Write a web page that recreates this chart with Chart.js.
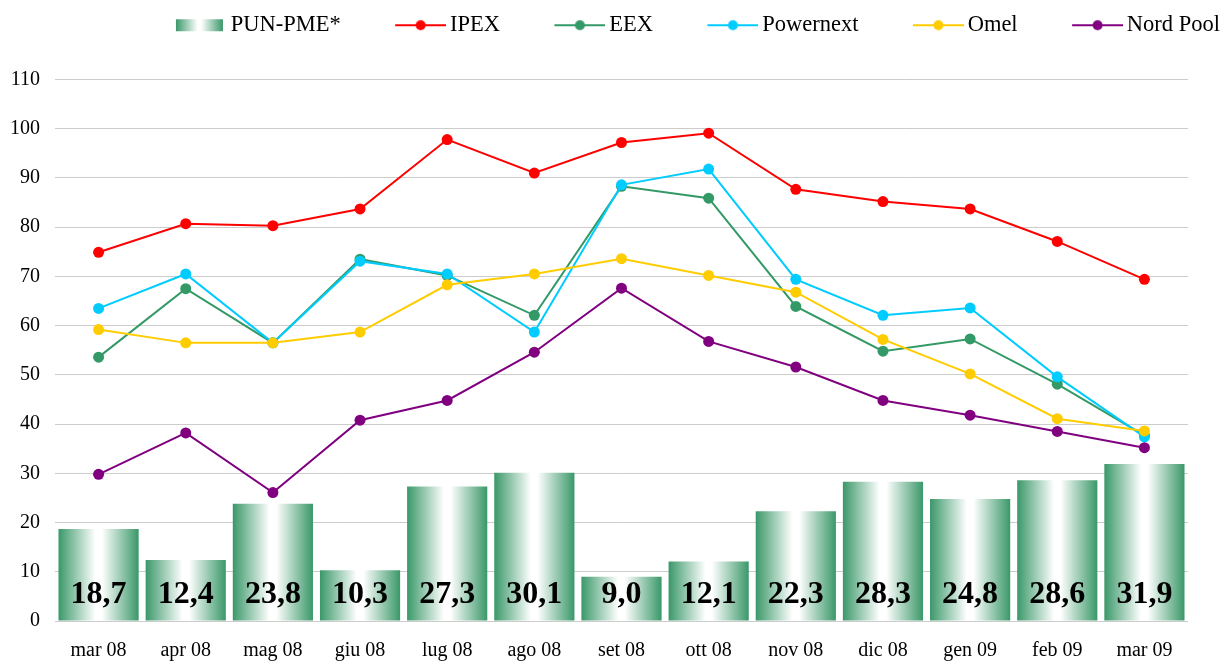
<!DOCTYPE html>
<html>
<head>
<meta charset="utf-8">
<script src="https://cdn.jsdelivr.net/npm/chart.js@4"></script>
<style>
  html, body { margin: 0; padding: 0; background: #fff; }
  #box { width: 1222px; height: 661px; }
</style>
</head>
<body>
<div id="box"><canvas id="myChart"></canvas></div>
<script>
// dati
const mesi = ['mar 08', 'apr 08', 'mag 08', 'giu 08', 'lug 08', 'ago 08', 'set 08', 'ott 08', 'nov 08', 'dic 08', 'gen 09', 'feb 09', 'mar 09'];
const pun = [18.7, 12.4, 23.8, 10.3, 27.3, 30.1, 9.0, 12.1, 22.3, 28.3, 24.8, 28.6, 31.9];
const ipex = [74.9, 80.7, 80.3, 83.7, 97.8, 91.0, 97.2, 99.1, 87.7, 85.2, 83.7, 77.1, 69.4];
const eex = [53.6, 67.5, 56.5, 73.5, 70.2, 62.1, 88.3, 85.9, 63.9, 54.8, 57.3, 48.1, 37.7];
const powernext = [63.5, 70.5, 56.5, 73.1, 70.5, 58.7, 88.6, 91.8, 69.4, 62.1, 63.6, 49.6, 37.4];
const omel = [59.2, 56.5, 56.5, 58.7, 68.3, 70.5, 73.6, 70.2, 66.8, 57.2, 50.2, 41.1, 38.6];
const nordPool = [29.8, 38.2, 26.1, 40.8, 44.8, 54.6, 67.6, 56.8, 51.6, 44.8, 41.8, 38.5, 35.2];
const yMin = 0;
const yMax = 110;
const yStep = 10;

const verde = '#3a9869';
Chart.defaults.font.family = '"Liberation Serif", "Times New Roman", serif';
Chart.defaults.color = '#000';

function gradiente(g, x0, x1) {
  const gr = g.createLinearGradient(x0, 0, x1, 0);
  gr.addColorStop(0, verde);
  gr.addColorStop(0.46, '#ffffff');
  gr.addColorStop(0.54, '#ffffff');
  gr.addColorStop(1, verde);
  return gr;
}

// simboli legenda (canvas)
function simboloLinea(col) {
  const c = document.createElement('canvas');
  c.width = 111; c.height = 14;
  const g = c.getContext('2d');
  g.strokeStyle = col; g.lineWidth = 2;
  g.beginPath(); g.moveTo(60, 7); g.lineTo(111, 7); g.stroke();
  g.fillStyle = col;
  g.beginPath(); g.arc(85.5, 7, 5, 0, Math.PI * 2); g.fill();
  return c;
}
function simboloBarra() {
  const c = document.createElement('canvas');
  c.width = 111; c.height = 14;
  const g = c.getContext('2d');
  g.fillStyle = gradiente(g, 60, 107);
  g.fillRect(60, 1, 47, 12);
  return c;
}

const colori = ['#ff0000', '#339966', '#00ccff', '#ffcc00', '#800080'];
const simboli = [simboloBarra()].concat(colori.map(simboloLinea));

function linea(label, data, col, ord) {
  return {
    type: 'line', label: label, data: data, order: ord,
    borderColor: col, backgroundColor: col, borderWidth: 2,
    pointRadius: 5.5, pointBorderWidth: 0, pointBackgroundColor: col,
    tension: 0
  };
}

const etichetteBarre = {
  id: 'etichetteBarre',
  afterDatasetsDraw(chart) {
    const meta = chart.getDatasetMeta(0);
    const ctx = chart.ctx;
    const y = chart.scales.y.getPixelForValue(0) - 26;
    ctx.save();
    ctx.font = 'bold 32px "Liberation Serif", "Times New Roman", serif';
    ctx.fillStyle = '#000';
    ctx.textAlign = 'center';
    ctx.textBaseline = 'middle';
    meta.data.forEach((bar, i) => {
      ctx.fillText(pun[i].toFixed(1).replace('.', ','), bar.x, y);
    });
    ctx.restore();
  }
};

const spazioLegenda = {
  id: 'spazioLegenda',
  beforeInit(chart) {
    const fit = chart.legend.fit;
    chart.legend.fit = function () {
      fit.bind(chart.legend)();
      this.height += 33;
    };
  }
};

const ctx = document.querySelector('#myChart');

new Chart(ctx, {
  type: 'bar',
  data: {
    labels: mesi,
    datasets: [
      {
        label: 'PUN-PME*', data: pun, order: 10,
        barPercentage: 0.92, categoryPercentage: 1,
        borderWidth: 0,
        backgroundColor: (c) => {
          const chart = c.chart;
          if (!chart.chartArea) return verde;
          const x = chart.scales.x.getPixelForValue(c.dataIndex);
          const w = chart.chartArea.width / mesi.length * 0.92;
          return gradiente(chart.ctx, x - w / 2, x + w / 2);
        }
      },
      linea('IPEX', ipex, colori[0], 5),
      linea('EEX', eex, colori[1], 4),
      linea('Powernext', powernext, colori[2], 3),
      linea('Omel', omel, colori[3], 2),
      linea('Nord Pool', nordPool, colori[4], 1)
    ]
  },
  options: {
    responsive: true,
    maintainAspectRatio: false,
    animation: false,
    layout: { padding: { top: 12, left: 0, right: 0, bottom: 0 } },
    plugins: {
      tooltip: { enabled: false },
      legend: {
        position: 'top',
        align: 'end',
        labels: {
          usePointStyle: true,
          pointStyleWidth: 96,
          boxHeight: 14,
          padding: 2,
          color: '#000',
          font: { size: 22.5 },
          generateLabels(chart) {
            const items = Chart.defaults.plugins.legend.labels.generateLabels(chart);
            items.sort((a, b) => a.datasetIndex - b.datasetIndex);
            items.forEach((it) => { it.pointStyle = simboli[it.datasetIndex]; });
            return items;
          }
        }
      }
    },
    scales: {
      x: {
        afterFit(s) { s.height = 40; },
        grid: { display: false, drawTicks: false },
        border: { display: false },
        ticks: { font: { size: 20 }, padding: 18, color: '#000' }
      },
      y: {
        min: yMin, max: yMax,
        afterFit(s) { s.width = 55; },
        grid: { color: '#cccccc', lineWidth: 1, drawTicks: false },
        border: { display: false },
        ticks: { stepSize: yStep, font: { size: 20 }, padding: 15, color: '#000' }
      },
      yDestra: {
        position: 'right',
        display: true,
        afterFit(s) { s.width = 34; },
        grid: { display: false },
        border: { display: false },
        ticks: { display: false }
      }
    }
  },
  plugins: [etichetteBarre, spazioLegenda]
});
</script>
</body>
</html>
